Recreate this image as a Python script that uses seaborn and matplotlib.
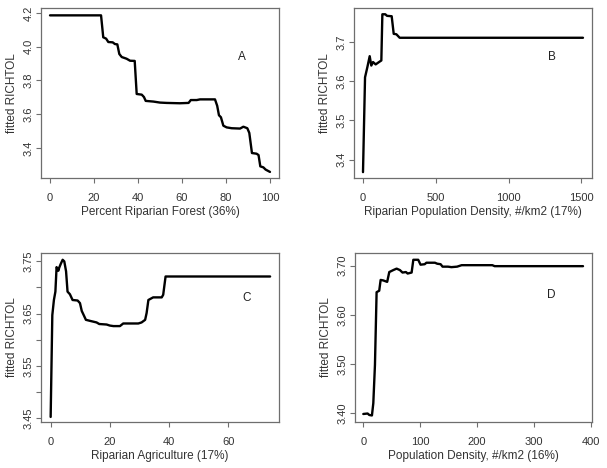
import matplotlib
matplotlib.use("Agg")
import matplotlib.pyplot as plt
import seaborn as sns
import pandas as pd
from matplotlib.ticker import FixedLocator, FuncFormatter

# ---- data ----
forest_x = [0, 23.2, 24.2, 25.5, 26.5, 28.5, 29.5, 30.6, 31.5, 32.6, 34.8, 36.4, 38.5, 39.4, 41.7, 42.7,
            43.5, 47, 50, 53, 59, 63, 64, 66.7, 68.2, 75, 76, 76.8, 77.7, 78.8, 80.3, 82.6, 86.4, 87.9,
            89.7, 90.6, 91.8, 93.9, 94.8, 95.6, 97, 98, 100]
forest_y = [4.186, 4.186, 4.056, 4.048, 4.028, 4.026, 4.016, 4.014, 3.957, 3.939, 3.929, 3.917, 3.916,
            3.720, 3.716, 3.702, 3.679, 3.675, 3.669, 3.667, 3.665, 3.667, 3.684, 3.684, 3.688, 3.688,
            3.650, 3.594, 3.582, 3.532, 3.522, 3.517, 3.515, 3.526, 3.517, 3.489, 3.370, 3.366, 3.358,
            3.291, 3.285, 3.272, 3.258]

rpop_x = [0, 14, 30, 46, 57, 69, 87, 110, 126, 133, 153, 165, 197, 211, 229, 252, 1511]
rpop_y = [3.368, 3.610, 3.636, 3.664, 3.640, 3.649, 3.643, 3.649, 3.653, 3.771, 3.771, 3.767, 3.766,
          3.721, 3.720, 3.711, 3.711]

agri_x = [0, 0.56, 1.1, 1.6, 2.0, 2.6, 2.9, 3.4, 4.05, 4.6, 5.2, 5.7, 6.5, 7.4, 9.1, 9.9, 10.5, 11.0,
          11.9, 13.3, 15.5, 16.4, 18.9, 20, 21.2, 23.4, 24.5, 29.6, 30.7, 31.9, 32.4, 33.0, 34.6, 37.5,
          38.0, 38.8, 74.1]
agri_y = [3.452, 3.647, 3.676, 3.692, 3.739, 3.732, 3.738, 3.745, 3.753, 3.750, 3.731, 3.692, 3.687,
          3.676, 3.675, 3.670, 3.655, 3.649, 3.638, 3.636, 3.633, 3.630, 3.629, 3.627, 3.626, 3.626,
          3.631, 3.631, 3.633, 3.638, 3.651, 3.676, 3.681, 3.681, 3.686, 3.721, 3.721]

pop_x = [0, 7.6, 10.5, 15.2, 17.6, 20.5, 23.4, 28, 30.5, 35, 42, 45.7, 52.7, 58.6, 64.4, 69, 75, 78, 85,
         88, 96.6, 100.7, 108, 111, 126, 130, 136, 139.4, 149, 155, 165, 173, 227, 231, 386.5]
pop_y = [3.398, 3.399, 3.396, 3.395, 3.420, 3.498, 3.646, 3.649, 3.671, 3.670, 3.667, 3.687, 3.691,
         3.694, 3.691, 3.686, 3.687, 3.684, 3.686, 3.712, 3.712, 3.702, 3.703, 3.706, 3.706, 3.704,
         3.703, 3.698, 3.698, 3.697, 3.698, 3.701, 3.701, 3.699, 3.699]

xlabels = ["Percent Riparian Forest (36%)", "Riparian Population Density, #/km2 (17%)",
           "Riparian Agriculture (17%)", "Population Density, #/km2 (16%)"]
letters = ["A", "B", "C", "D"]
ylabel = "fitted RICHTOL"

# ---- styling ----
sns.set_theme(style="white")
plt.rcParams["font.family"] = ["Liberation Sans", "DejaVu Sans"]
txt = "#333333"
edge = "#6e6e6e"

fig = plt.figure(figsize=(6.07, 4.68), dpi=100)
W, H = 607.0, 468.0
boxes = [(41, 8, 279, 178), (354, 8, 592, 178), (41, 253, 279, 422), (355, 253, 592, 422)]
axes = [fig.add_axes([l / W, 1 - b / H, (r - l) / W, (b - t) / H]) for (l, t, r, b) in boxes]

panels = [
    (forest_x, forest_y, (-4.1, 104.1), (3.222, 4.2296), [0, 20, 40, 60, 80, 100],
     [3.4, 3.6, 3.8, 4.0, 4.2], [3.4, 3.6, 3.8, 4.0, 4.2], "{:.1f}", (0.845, 0.712)),
    (rpop_x, rpop_y, (-61.8, 1573), (3.353, 3.787), [0, 500, 1000, 1500],
     [3.4, 3.5, 3.6, 3.7], [3.4, 3.5, 3.6, 3.7], "{:.1f}", (0.832, 0.712)),
    (agri_x, agri_y, (-3.26, 77.1), (3.4423, 3.766), [0, 20, 40, 60],
     [3.45, 3.50, 3.55, 3.60, 3.65, 3.70, 3.75], [3.45, 3.55, 3.65, 3.75], "{:.2f}", (0.866, 0.734)),
    (pop_x, pop_y, (-14.6, 402.3), (3.3817, 3.7258), [0, 100, 200, 300, 400],
     [3.40, 3.50, 3.60, 3.70], [3.40, 3.50, 3.60, 3.70], "{:.2f}", (0.827, 0.751)),
]

for ax, (xs, ys, xl, yl, xt, yt, ylab_vals, fmt, lpos), xlab, let in zip(axes, panels, xlabels, letters):
    df = pd.DataFrame({"x": xs, "y": ys})
    sns.lineplot(data=df, x="x", y="y", ax=ax, color="black", linewidth=1.7, sort=False)
    ax.set_xlim(*xl)
    ax.set_ylim(*yl)
    ax.set_xticks(xt)
    ax.yaxis.set_major_locator(FixedLocator(yt))
    ax.yaxis.set_major_formatter(FuncFormatter(
        lambda v, p, fmt=fmt, lv=ylab_vals: fmt.format(v) if any(abs(v - w) < 1e-6 for w in lv) else ""))
    ax.tick_params(axis="both", direction="out", length=3.5, width=0.8, color=edge,
                   labelsize=8, labelcolor=txt, bottom=True, left=True)
    ax.tick_params(axis="x", pad=7.5)
    ax.tick_params(axis="y", pad=2)
    plt.setp(ax.get_yticklabels(), rotation=90, va="center")
    for s in ax.spines.values():
        s.set_color(edge)
        s.set_linewidth(0.9)
    ax.set_xlabel(xlab, fontsize=8.5, color=txt, labelpad=2)
    ax.set_ylabel(ylabel, fontsize=8.5, color=txt, labelpad=4)
    ax.text(lpos[0], lpos[1], let, transform=ax.transAxes, fontsize=8.5, color="#222222",
            ha="center", va="center")

fig.savefig("out.png", dpi=100, facecolor="white")
